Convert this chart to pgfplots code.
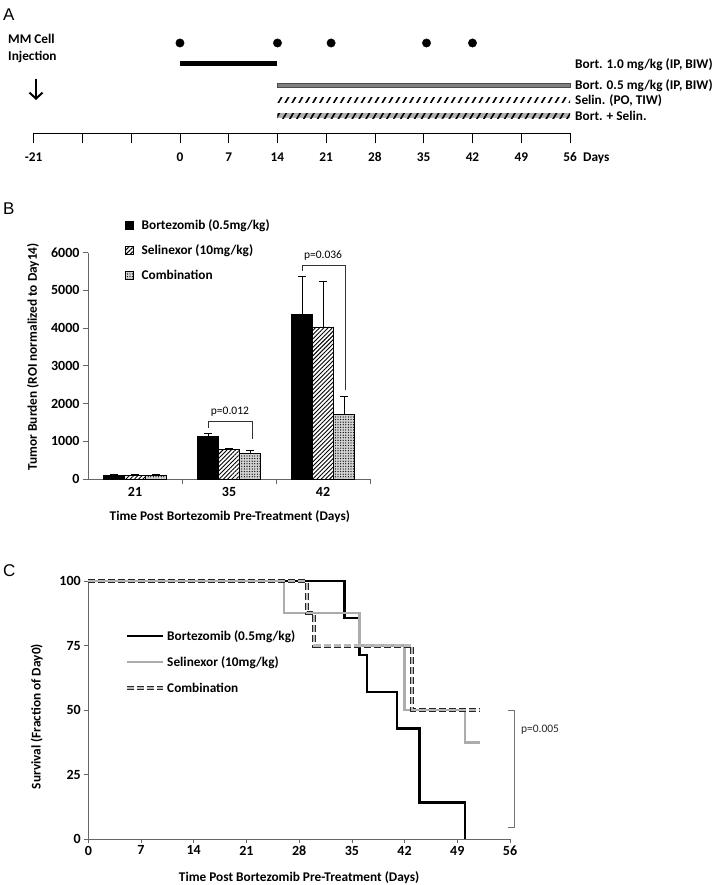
\documentclass[border=0pt]{standalone}
\usepackage{fontspec}
\setmainfont{Carlito}
\newfontfamily\arialfont{Liberation Sans}
\usepackage{pgfplots}
\pgfplotsset{compat=1.18}
\usetikzlibrary{patterns.meta, arrows.meta}

\pgfplotstableread{
x y e
0 100 10
1 1130 70
2 4355 1025
}\bortdata
\pgfplotstableread{
x y e
0 100 10
1 780 25
2 4030 1220
}\selindata
\pgfplotstableread{
x y e
0 100 10
1 680 80
2 1710 485
}\combodata

\tikzset{
  hatchfill/.style={fill=white, draw=black, line width=0.6pt, postaction={pattern={Lines[angle=45,distance=3pt,line width=0.9pt]}}},
  dotfill/.style={fill=gray!35, draw=black, line width=0.6pt, postaction={pattern={Dots[distance=2.6pt,radius=0.65pt]}}},
  combokm/.style={draw=black!85, line width=0.9pt, double=gray!55, double distance=2.2pt, dash pattern=on 7pt off 3pt},
}
\newcommand{\lbl}{\bfseries\fontsize{13.3}{15}\selectfont}
\newcommand{\tk}{\bfseries\fontsize{14}{16}\selectfont}

\begin{document}
\begin{tikzpicture}[x=1pt,y=1pt]
\path[use as bounding box] (0,0) rectangle (715,885);

% panel letters
\node[anchor=base west, inner sep=0, font=\arialfont\fontsize{17}{17}\selectfont] at (3,864.3) {A};
\node[anchor=base west, inner sep=0, font=\arialfont\fontsize{17}{17}\selectfont] at (3,670) {B};
\node[anchor=base west, inner sep=0, font=\arialfont\fontsize{17}{17}\selectfont] at (3,308.3) {C};

% ---------------- Panel A ----------------
\begin{axis}[at={(33.7pt,751.7pt)}, anchor=south west, scale only axis,
  width=536.3pt, height=100pt, xmin=-21, xmax=56, ymin=0, ymax=100,
  axis x line*=bottom, axis y line=none,
  x axis line style={-, black, line width=0.8pt},
  xtick={-21,-14,...,56}, xticklabels={-21,,,0,7,14,21,28,35,42,49,56},
  ytick=\empty,
  tick align=outside, major tick length=10pt,
  xtick style={black, line width=0.8pt},
  typeset ticklabels with strut,
  xticklabel style={font=\lbl, yshift=-4pt},
  /pgf/number format/assume math mode=true,
  clip=false]
\addplot[only marks, mark=*, mark size=4.2pt, black] coordinates {(0,90.3)(14,90.3)(21.7,90.3)(35.4,90.3)(42,90.3)};
\addplot[fill=black, draw=none] coordinates {(0,67.5)(14,67.5)(14,72.5)(0,72.5)} -- cycle;
\addplot[fill=gray, draw=black!70, line width=0.5pt] coordinates {(14,46.3)(56,46.3)(56,50.3)(14,50.3)} -- cycle;
\addplot[fill=white, draw=none, postaction={pattern={Lines[angle=60,distance=6pt,line width=1.6pt]}}] coordinates {(14,30.8)(56,30.8)(56,35.8)(14,35.8)} -- cycle;
\addplot[fill=gray!60, draw=none, postaction={pattern={Lines[angle=60,distance=6pt,line width=1.6pt]}}] coordinates {(14,14.8)(56,14.8)(56,19.8)(14,19.8)} -- cycle;
\end{axis}

\node[anchor=base west, inner sep=0, font=\lbl] at (575,816.5) {Bort. 1.0 mg/kg (IP, BIW)};
\node[anchor=base west, inner sep=0, font=\lbl] at (575,795.5) {Bort. 0.5 mg/kg (IP, BIW)};
\node[anchor=base west, inner sep=0, font=\lbl] at (575,780.5) {Selin. (PO, TIW)};
\node[anchor=base west, inner sep=0, font=\lbl] at (575,764) {Bort. + Selin.};
\node[anchor=base west, inner sep=0, font=\lbl] at (583,723.5) {Days};
\node[anchor=base west, inner sep=0, font=\lbl] at (8,841) {MM Cell};
\node[anchor=base west, inner sep=0, font=\lbl] at (8,824) {Injection};
\draw[line width=2pt, -{Straight Barb[length=6pt,width=13pt,line width=2pt]}] (36,806) -- (36,785);

% ---------------- Panel B ----------------
\begin{axis}[at={(88pt,406pt)}, anchor=south west, scale only axis,
  width=282pt, height=226.3pt, xmin=-0.5, xmax=2.5, ymin=0, ymax=6000,
  ybar=0pt, bar width=21pt,
  axis x line=bottom, axis y line=left,
  axis line style={-, draw=gray!80!black, line width=0.7pt},
  xtick={0.5,1.5,2.5}, xticklabels={},
  extra x ticks={0,1,2}, extra x tick labels={21,35,42},
  extra x tick style={major tick length=0pt, xticklabel style={yshift=-5pt}},
  ytick={0,1000,...,6000},
  tick align=outside, major tick length=5pt,
  tick style={draw=gray!80!black, line width=0.7pt},
  ticklabel style={font=\tk},
  /pgf/number format/1000 sep={},
  /pgf/number format/assume math mode=true,
  xlabel={Time Post Bortezomib Pre-Treatment (Days)},
  xlabel style={at={(axis description cs:0.503,-0.168)}, anchor=center, font=\lbl},
  ylabel={Tumor Burden (ROI normalized to Day14)},
  ylabel style={at={(axis description cs:-0.195,0.54)}, anchor=center, font=\lbl},
  legend image code/.code={\draw[#1] (0pt,-4pt) rectangle (8pt,4pt);},
  legend style={draw=none, fill=none, at={(axis description cs:0.12,1.165)}, anchor=north west, font=\lbl, row sep=10pt, column sep=6pt},
  legend cell align=left,
  error bars/y dir=plus, error bars/y explicit,
  error bars/error bar style={black, line width=0.7pt},
  error bars/error mark options={rotate=90, mark size=4pt, line width=0.7pt, black},
  clip=false]
\addplot[fill=black, draw=black, line width=0.6pt] table[x=x, y=y, y error=e] {\bortdata};
\addplot[hatchfill] table[x=x, y=y, y error=e] {\selindata};
\addplot[dotfill] table[x=x, y=y, y error=e] {\combodata};
\legend{Bortezomib (0.5mg/kg), Selinexor (10mg/kg), Combination}
\draw[black!80, line width=0.6pt] (axis cs:0.78,1352) -- (axis cs:0.78,1538) -- (axis cs:1.25,1538) -- (axis cs:1.25,1060);
\node[font=\fontsize{11.5}{13}\selectfont] at (axis cs:1.01,1784) {p=0.012};
\draw[black!80, line width=0.6pt] (axis cs:1.777,5515) -- (axis cs:1.777,5674) -- (axis cs:2.241,5674) -- (axis cs:2.241,2360);
\node[font=\fontsize{11.5}{13}\selectfont] at (axis cs:2.0,5912) {p=0.036};
\end{axis}

% ---------------- Panel C ----------------
\begin{axis}[at={(88.3pt,45.7pt)}, anchor=south west, scale only axis,
  width=421.7pt, height=258.3pt, xmin=0, xmax=56, ymin=0, ymax=100,
  axis x line=bottom, axis y line=left,
  axis line style={-, draw=gray!80!black, line width=0.7pt},
  xtick={0,7,...,56}, ytick={0,25,...,100},
  tick align=outside, major tick length=4pt,
  tick style={draw=gray!80!black, line width=0.7pt},
  ticklabel style={font=\tk},
  xticklabel style={yshift=1pt},
  /pgf/number format/assume math mode=true,
  xlabel={Time Post Bortezomib Pre-Treatment (Days)},
  xlabel style={at={(axis description cs:0.5,-0.149)}, anchor=center, font=\lbl},
  ylabel={Survival (Fraction of Day0)},
  ylabel style={at={(axis description cs:-0.122,0.475)}, anchor=center, font=\lbl},
  legend image code/.code={\draw[#1] (0pt,0pt) -- (36pt,0pt);},
  legend style={draw=none, fill=none, at={(axis description cs:0.08,0.826)}, anchor=north west, font=\lbl, row sep=11pt, column sep=0pt},
  legend cell align=left,
  clip=false]
\addplot[black, line width=2.4pt] coordinates {(0,100)(34,100)(34,85.7)(36,85.7)(36,71.4)(37,71.4)(37,57.1)(41,57.1)(41,42.9)(44,42.9)(44,14.3)(50,14.3)(50,0)};
\addplot[gray!65, line width=2.4pt] coordinates {(0,100)(26,100)(26,87.5)(36,87.5)(36,75)(42,75)(42,50)(50,50)(50,37.5)(52,37.5)};
\addplot[combokm] coordinates {(0,100)(29,100)(29,87.5)(30,87.5)(30,75)(43,75)(43,50)(52,50)};
\legend{Bortezomib (0.5mg/kg), Selinexor (10mg/kg), Combination}
\draw[gray!90!black, line width=0.7pt] (axis cs:55.7,50.1) -- (axis cs:56.6,50.1) -- (axis cs:56.6,4.5) -- (axis cs:55.7,4.5);
\node[anchor=west, font=\fontsize{11.5}{13}\selectfont, text=black!85] at (axis cs:57.0,42.3) {p=0.005};
\end{axis}
\end{tikzpicture}
\end{document}
